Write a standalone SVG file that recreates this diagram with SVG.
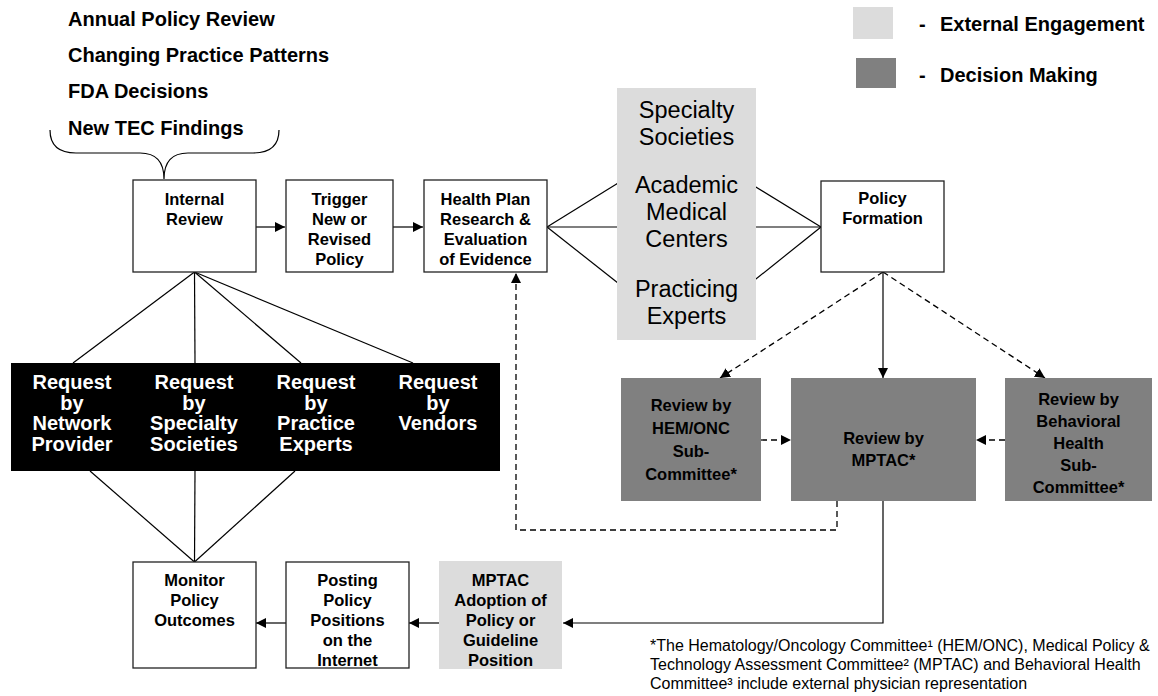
<svg xmlns="http://www.w3.org/2000/svg" width="1158" height="696" viewBox="0 0 1158 696">
<defs>
<style>
.box{fill:#fff;stroke:#222;stroke-width:1.3}
.ext{fill:#dcdcdc;stroke:none}
.dec{fill:#808080;stroke:none}
.blk{fill:#000}
.ln{stroke:#000;stroke-width:1.2;fill:none}
.ds{stroke:#000;stroke-width:1.3;fill:none;stroke-dasharray:6 4}
.b{font-family:"Liberation Sans",Arial,sans-serif;font-weight:bold;font-size:16.5px;fill:#000;text-anchor:middle}
.bw{font-family:"Liberation Sans",Arial,sans-serif;font-weight:bold;font-size:20px;fill:#fff;text-anchor:middle}
.big{font-family:"Liberation Sans",Arial,sans-serif;font-size:23.5px;fill:#000;text-anchor:middle}
.hd{font-family:"Liberation Sans",Arial,sans-serif;font-weight:bold;font-size:20px;fill:#000}
.fn{font-family:"Liberation Sans",Arial,sans-serif;font-size:16px;fill:#000}
</style>
<marker id="ar" viewBox="0 0 10 10" refX="10" refY="5" markerWidth="10" markerHeight="10" markerUnits="userSpaceOnUse" orient="auto">
<path d="M0,0 L10,5 L0,10 z" fill="#000"/>
</marker>
</defs>

<g id="legend">
<rect x="853" y="7" width="40" height="32" class="ext" stroke="#ccc"/>
<rect x="856" y="58" width="40" height="30" class="dec"/>
<text x="919" y="31" class="hd">-</text>
<text x="940" y="31" class="hd">External Engagement</text>
<text x="919" y="82" class="hd">-</text>
<text x="940" y="82" class="hd">Decision Making</text>
</g>

<g id="triggers">
<text x="68" y="26" class="hd">Annual Policy Review</text>
<text x="68" y="62" class="hd">Changing Practice Patterns</text>
<text x="68" y="98" class="hd">FDA Decisions</text>
<text x="68" y="135" class="hd">New TEC Findings</text>
<path class="ln" d="M50,130 Q50,153 76,153 L140,153 Q164,153 164,179 Q164,153 188,153 L253,153 Q279,153 279,130"/>
</g>

<g id="connectors">
<line class="ln" x1="256" y1="227" x2="285" y2="227" marker-end="url(#ar)"/>
<line class="ln" x1="393" y1="227" x2="423" y2="227" marker-end="url(#ar)"/>
<line class="ln" x1="547" y1="227" x2="623" y2="180"/>
<line class="ln" x1="547" y1="227" x2="623" y2="227"/>
<line class="ln" x1="547" y1="227" x2="623" y2="287"/>
<line class="ln" x1="821" y1="227" x2="746" y2="181"/>
<line class="ln" x1="821" y1="227" x2="746" y2="227"/>
<line class="ln" x1="821" y1="227" x2="746" y2="287"/>
<line class="ds" x1="883" y1="272" x2="720" y2="378" marker-end="url(#ar)"/>
<line class="ln" x1="883" y1="272" x2="883" y2="378" stroke-width="1.5" marker-end="url(#ar)"/>
<line class="ds" x1="883" y1="272" x2="1045" y2="378" marker-end="url(#ar)"/>
<line class="ds" x1="761" y1="440" x2="791" y2="440" marker-end="url(#ar)"/>
<line class="ds" x1="1005" y1="440" x2="976" y2="440" marker-end="url(#ar)"/>
<path class="ds" d="M837,501 L837,530 L516,530 L516,273" marker-end="url(#ar)"/>
<path class="ln" d="M883,501 L883,623 L563,623" stroke-width="1.3" marker-end="url(#ar)"/>
<line class="ln" x1="439" y1="623" x2="409" y2="623" marker-end="url(#ar)"/>
<line class="ln" x1="286" y1="623" x2="256" y2="623" marker-end="url(#ar)"/>
<line class="ln" x1="194.5" y1="272" x2="73" y2="363"/>
<line class="ln" x1="194.5" y1="272" x2="195" y2="363"/>
<line class="ln" x1="194.5" y1="272" x2="301" y2="363"/>
<line class="ln" x1="194.5" y1="272" x2="413" y2="363"/>
<line class="ln" x1="90" y1="471" x2="194.5" y2="562"/>
<line class="ln" x1="195" y1="471" x2="194.5" y2="562"/>
<line class="ln" x1="295" y1="471" x2="194.5" y2="562"/>
</g>

<g id="internal-review">
<rect x="133" y="180" width="123" height="92" class="box"/>
<text class="b"><tspan x="194.5" y="205">Internal</tspan><tspan x="194.5" y="225">Review</tspan></text>
</g>

<g id="trigger">
<rect x="286" y="180" width="107" height="92" class="box"/>
<text class="b"><tspan x="339.5" y="205">Trigger</tspan><tspan x="339.5" y="225">New or</tspan><tspan x="339.5" y="245">Revised</tspan><tspan x="339.5" y="265">Policy</tspan></text>
</g>

<g id="health-plan">
<rect x="424" y="180" width="123" height="92" class="box"/>
<text class="b"><tspan x="485.5" y="205">Health Plan</tspan><tspan x="485.5" y="225">Research &amp;</tspan><tspan x="485.5" y="245">Evaluation</tspan><tspan x="485.5" y="265">of Evidence</tspan></text>
</g>

<g id="external-experts">
<rect x="617" y="88" width="139" height="252" class="ext"/>
<text class="big"><tspan x="686.5" y="118">Specialty</tspan><tspan x="686.5" y="145">Societies</tspan><tspan x="686.5" y="193">Academic</tspan><tspan x="686.5" y="220">Medical</tspan><tspan x="686.5" y="247">Centers</tspan><tspan x="686.5" y="297">Practicing</tspan><tspan x="686.5" y="324">Experts</tspan></text>
</g>

<g id="policy-formation">
<rect x="821" y="181" width="123" height="91" class="box"/>
<text class="b"><tspan x="882.5" y="204">Policy</tspan><tspan x="882.5" y="224">Formation</tspan></text>
</g>

<g id="hem-onc">
<rect x="621" y="378" width="140" height="123" class="dec"/>
<text class="b"><tspan x="691" y="411">Review by</tspan><tspan x="691" y="434">HEM/ONC</tspan><tspan x="691" y="457">Sub-</tspan><tspan x="691" y="480">Committee*</tspan></text>
</g>

<g id="mptac">
<rect x="791" y="378" width="185" height="123" class="dec"/>
<text class="b"><tspan x="883.5" y="444">Review by</tspan><tspan x="883.5" y="466">MPTAC*</tspan></text>
</g>

<g id="behavioral">
<rect x="1005" y="378" width="147" height="123" class="dec"/>
<text class="b"><tspan x="1078.5" y="405">Review by</tspan><tspan x="1078.5" y="427">Behavioral</tspan><tspan x="1078.5" y="449">Health</tspan><tspan x="1078.5" y="471">Sub-</tspan><tspan x="1078.5" y="493">Committee*</tspan></text>
</g>

<g id="requests">
<rect x="11" y="363" width="489" height="108" class="blk"/>
<text class="bw"><tspan x="72" y="389">Request</tspan><tspan x="72" y="410">by</tspan><tspan x="72" y="430">Network</tspan><tspan x="72" y="451">Provider</tspan></text>
<text class="bw"><tspan x="194" y="389">Request</tspan><tspan x="194" y="410">by</tspan><tspan x="194" y="430">Specialty</tspan><tspan x="194" y="451">Societies</tspan></text>
<text class="bw"><tspan x="316" y="389">Request</tspan><tspan x="316" y="410">by</tspan><tspan x="316" y="430">Practice</tspan><tspan x="316" y="451">Experts</tspan></text>
<text class="bw"><tspan x="438" y="389">Request</tspan><tspan x="438" y="410">by</tspan><tspan x="438" y="430">Vendors</tspan></text>
</g>

<g id="monitor">
<rect x="133" y="562" width="123" height="106" class="box"/>
<text class="b"><tspan x="194.5" y="586">Monitor</tspan><tspan x="194.5" y="606">Policy</tspan><tspan x="194.5" y="626">Outcomes</tspan></text>
</g>

<g id="posting">
<rect x="286" y="562" width="123" height="106" class="box"/>
<text class="b"><tspan x="347.5" y="586">Posting</tspan><tspan x="347.5" y="606">Policy</tspan><tspan x="347.5" y="626">Positions</tspan><tspan x="347.5" y="646">on the</tspan><tspan x="347.5" y="666">Internet</tspan></text>
</g>

<g id="adoption">
<rect x="439" y="561" width="123" height="108" class="ext"/>
<text class="b"><tspan x="500.5" y="586">MPTAC</tspan><tspan x="500.5" y="606">Adoption of</tspan><tspan x="500.5" y="626">Policy or</tspan><tspan x="500.5" y="646">Guideline</tspan><tspan x="500.5" y="666">Position</tspan></text>
</g>

<g id="footnote">
<text class="fn"><tspan x="650" y="651">*The Hematology/Oncology Committee¹ (HEM/ONC), Medical Policy &amp;</tspan><tspan x="650" y="670">Technology Assessment Committee² (MPTAC) and Behavioral Health</tspan><tspan x="650" y="689">Committee³ include external physician representation</tspan></text>
</g>
</svg>
